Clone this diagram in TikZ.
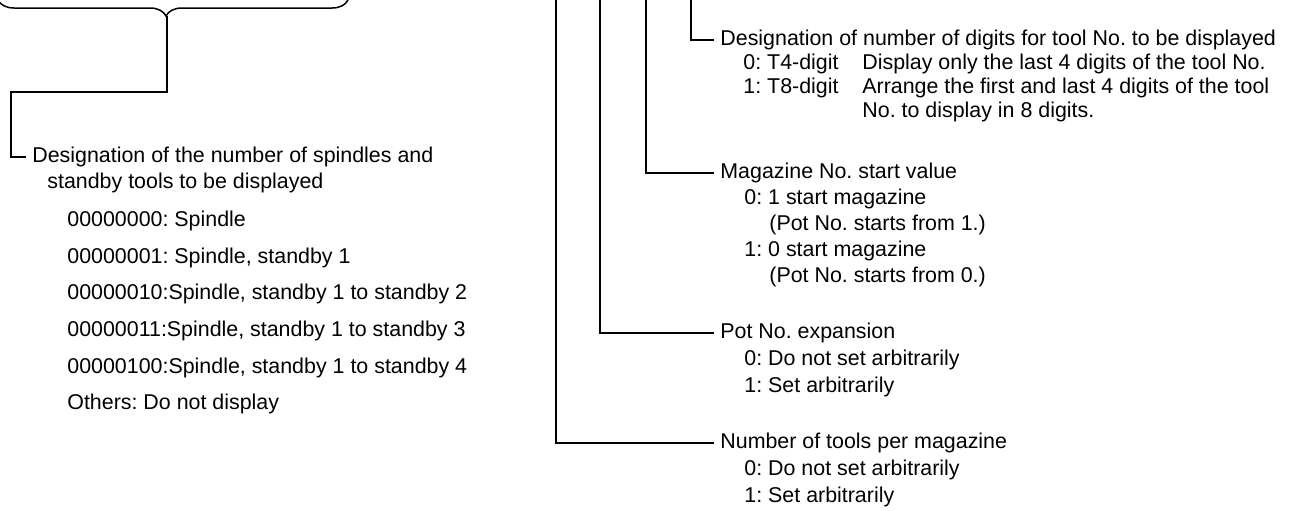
\documentclass[tikz,border=0pt]{standalone}
\usepackage{fontspec}
\setmainfont{Liberation Sans}
\usetikzlibrary{decorations.pathreplacing}
\tikzset{
  lead/.style={line width=0.75pt},
  head/.style={anchor=west,inner xsep=3pt,inner ysep=0pt,text height=8pt,text depth=2.2pt},
  item/.style={anchor=west,inner xsep=0pt,inner ysep=0pt,text height=8pt,text depth=2.2pt},
}
\begin{document}
\frenchspacing
\begin{tikzpicture}[x=0.5pt,y=-0.5pt,font=\fontsize{10.7}{12.5}\selectfont]
\useasboundingbox (0,0) rectangle (1292,510);
\draw[lead,decorate,decoration={brace,amplitude=8pt,aspect=0.52}] (348,0) -- (-2,0);
\coordinate (tip) at (167,16);
\coordinate (bend) at (11,92);
\node[head] (spindle) at (26,157) {Designation of the number of spindles and};
\node[item] at (47,183) {standby tools to be displayed};
\foreach \y/\t in {221/00000000: Spindle,258/{00000001: Spindle, standby 1},
  294/{00000010:Spindle, standby 1 to standby 2},331/{00000011:Spindle, standby 1 to standby 3},
  368/{00000100:Spindle, standby 1 to standby 4},404/Others: Do not display}
  \node[item] at (67,\y) {\t};
\draw[lead] (tip) |- (bend) |- (spindle.west);
\foreach \n/\x in {tools/556,pot/600,mag/646,digits/691}
  \coordinate (top-\n) at (\x,-2);
\node[head] (digits) at (714,40) {Designation of number of digits for tool No. to be displayed};
\node[item] at (743,64) {0: T4-digit};
\node[item] at (862,64) {Display only the last 4 digits of the tool No.};
\node[item] at (743,88) {1: T8-digit};
\node[item] at (862,88) {Arrange the first and last 4 digits of the tool};
\node[item] at (862,112) {No. to display in 8 digits.};
\node[head] (mag) at (714,173) {Magazine No. start value};
\node[item] at (744,199) {0: 1 start magazine};
\node[item] at (769,225) {(Pot No. starts from 1.)};
\node[item] at (744,251) {1: 0 start magazine};
\node[item] at (769,277) {(Pot No. starts from 0.)};
\node[head] (pot) at (714,333) {Pot No. expansion};
\node[item] at (744,360) {0: Do not set arbitrarily};
\node[item] at (744,387) {1: Set arbitrarily};
\node[head] (tools) at (714,443) {Number of tools per magazine};
\node[item] at (744,470) {0: Do not set arbitrarily};
\node[item] at (744,497) {1: Set arbitrarily};
\foreach \n in {digits,mag,pot,tools}
  \draw[lead] (top-\n) |- (\n.west);
\end{tikzpicture}
\end{document}
